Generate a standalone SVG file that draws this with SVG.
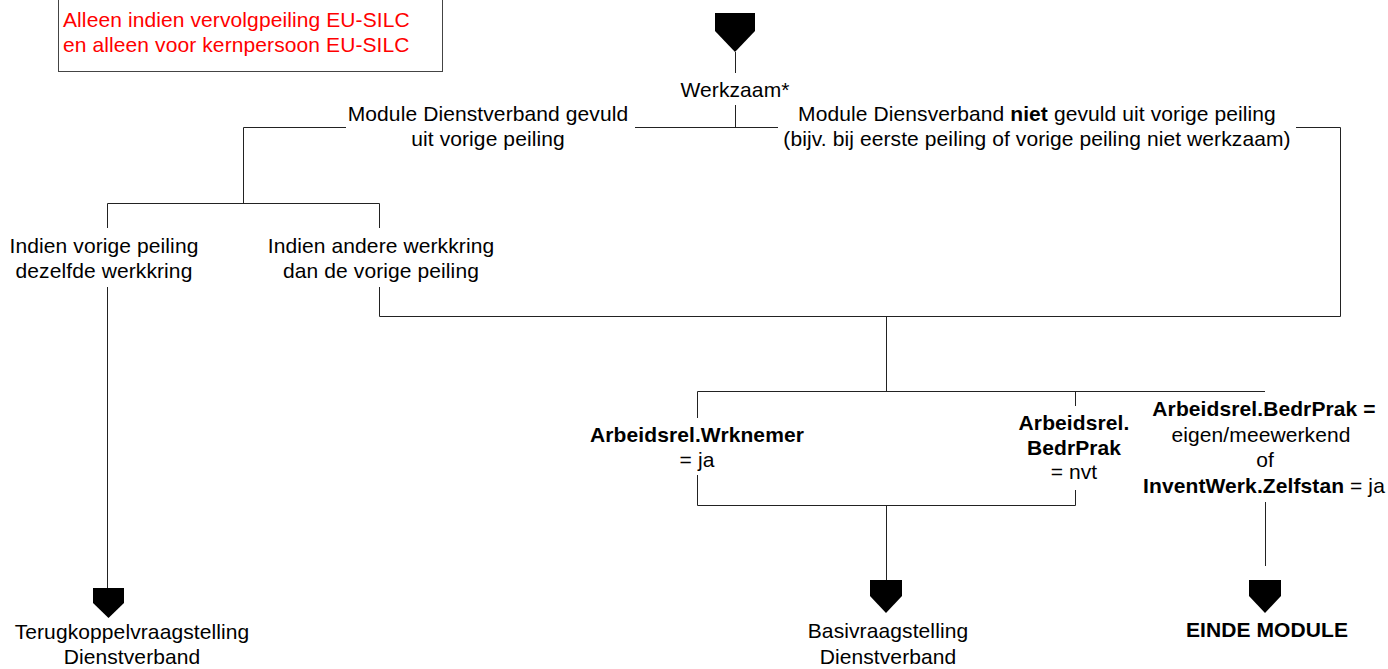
<svg xmlns="http://www.w3.org/2000/svg" width="1388" height="669" viewBox="0 0 1388 669">
<style>
text{font-family:"Liberation Sans",Arial,sans-serif;font-size:21px;fill:#000;text-anchor:middle;letter-spacing:0.1px}
.red{fill:#ff0000;text-anchor:start}
.b{font-weight:bold}
.ln{stroke:#222;stroke-width:1;fill:none}
.pent{fill:#000;stroke:none}
</style>
<rect width="1388" height="669" fill="#fff"/>
<g id="note">
<rect x="58.5" y="-5" width="384" height="76.5" fill="#fff" stroke="#444" stroke-width="1"/>
<text class="red" x="63" y="27">Alleen indien vervolgpeiling EU-SILC</text>
<text class="red" x="63" y="52">en alleen voor kernpersoon EU-SILC</text>
</g>
<g id="connectors">
<path class="ln" d="M735.5 52V73 M735.5 105V127.5 M635 127.5H778"/>
<path class="ln" d="M346 127.5H243.5V203.5 M107.5 203.5H379.5 M107.5 203.5V228 M379.5 203.5V228"/>
<path class="ln" d="M107.5 287V588"/>
<path class="ln" d="M379.5 287V316.5H1340.5V127.5H1296"/>
<path class="ln" d="M886.5 316.5V391.5 M697.5 391.5H1265 M697.5 391.5V418 M1075.5 391.5V406"/>
<path class="ln" d="M697.5 475V505.5H1075.5V490 M886.5 505.5V580"/>
<path class="ln" d="M1265.5 502V566"/>
</g>
<g id="start">
<polygon class="pent" points="715,13 755,13 755,31 735,52 715,31"/>
</g>
<g id="werkzaam">
<text x="735" y="97">Werkzaam*</text>
</g>
<g id="gevuld">
<text x="488" y="121">Module Dienstverband gevuld</text>
<text x="488" y="146">uit vorige peiling</text>
</g>
<g id="nietgevuld">
<text x="1037" y="121">Module Diensverband <tspan class="b">niet</tspan> gevuld uit vorige peiling</text>
<text x="1037" y="146">(bijv. bij eerste peiling of vorige peiling niet werkzaam)</text>
</g>
<g id="dezelfde">
<text x="104" y="253">Indien vorige peiling</text>
<text x="104" y="278">dezelfde werkkring</text>
</g>
<g id="andere">
<text x="381" y="253">Indien andere werkkring</text>
<text x="381" y="278">dan de vorige peiling</text>
</g>
<g id="wrknemer">
<text x="697" y="442"><tspan class="b">Arbeidsrel.Wrknemer</tspan></text>
<text x="697" y="467">= ja</text>
</g>
<g id="bedrprak-nvt">
<text x="1074" y="430" class="b">Arbeidsrel.</text>
<text x="1074" y="455" class="b">BedrPrak</text>
<text x="1074" y="479">= nvt</text>
</g>
<g id="bedrprak-eigen">
<text x="1264" y="416" class="b">Arbeidsrel.BedrPrak =</text>
<text x="1261" y="442">eigen/meewerkend</text>
<text x="1265" y="467">of</text>
<text x="1264" y="493"><tspan class="b">InventWerk.Zelfstan</tspan> = ja</text>
</g>
<g id="terugkoppel">
<polygon class="pent" points="93,588 124,588 124,603 108.5,618 93,603"/>
<text x="132" y="639">Terugkoppelvraagstelling</text>
<text x="132" y="664">Dienstverband</text>
</g>
<g id="basis">
<polygon class="pent" points="870,580 902,580 902,596 886,613 870,596"/>
<text x="888" y="638">Basivraagstelling</text>
<text x="888" y="664">Dienstverband</text>
</g>
<g id="einde">
<polygon class="pent" points="1249,580 1281,580 1281,596 1265,613 1249,596"/>
<text x="1267" y="637" class="b">EINDE MODULE</text>
</g>
</svg>
